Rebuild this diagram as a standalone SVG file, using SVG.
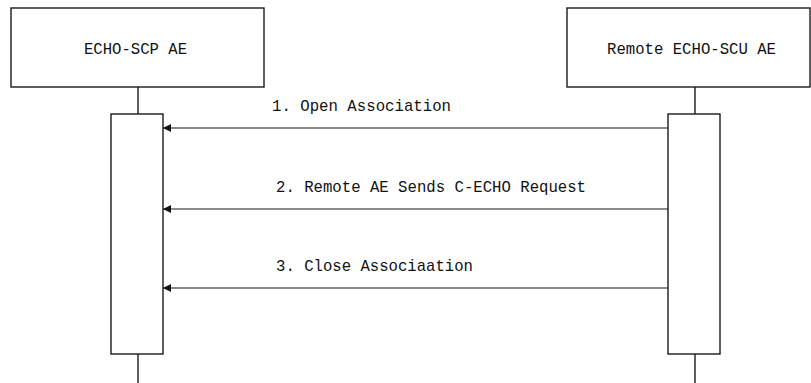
<svg xmlns="http://www.w3.org/2000/svg" width="811" height="383" viewBox="0 0 811 383">
  <style>
    .box { fill: #ffffff; stroke: #1a1a1a; stroke-width: 1.4; }
    .life { stroke: #1a1a1a; stroke-width: 1.4; fill: none; }
    .msg { stroke: #1a1a1a; stroke-width: 1.2; fill: none; marker-end: url(#arrow); }
    .lbl { font-family: "Liberation Mono", "DejaVu Sans Mono", monospace; font-size: 17px; fill: #111111; }
  </style>
  <defs>
    <marker id="arrow" viewBox="0 0 10 10" refX="10" refY="5" markerWidth="8" markerHeight="8" markerUnits="userSpaceOnUse" orient="auto">
      <path d="M0,0 L10,5 L0,10 z" fill="#111111"/>
    </marker>
  </defs>
  <rect width="811" height="383" fill="#ffffff"/>

  <g id="echo-scp">
    <rect class="box" x="11" y="8" width="253" height="79"/>
    <text class="lbl" x="84" y="54" textLength="103" lengthAdjust="spacingAndGlyphs">ECHO-SCP AE</text>
    <line class="life" x1="138" y1="87" x2="138" y2="114"/>
    <rect class="box" x="111" y="114" width="52" height="240"/>
    <line class="life" x1="138" y1="354" x2="138" y2="383"/>
  </g>

  <g id="remote-echo-scu">
    <rect class="box" x="567" y="8" width="243" height="79"/>
    <text class="lbl" x="607" y="54" textLength="169" lengthAdjust="spacingAndGlyphs">Remote ECHO-SCU AE</text>
    <line class="life" x1="695" y1="87" x2="695" y2="114"/>
    <rect class="box" x="668" y="114" width="52" height="240"/>
    <line class="life" x1="695" y1="354" x2="695" y2="383"/>
  </g>

  <g id="connectors">
    <line class="msg" x1="668" y1="128" x2="163" y2="128"/>
    <text class="lbl" x="272" y="111" textLength="179" lengthAdjust="spacingAndGlyphs">1. Open Association</text>
    <line class="msg" x1="668" y1="209" x2="163" y2="209"/>
    <text class="lbl" x="276" y="192" textLength="310" lengthAdjust="spacingAndGlyphs">2. Remote AE Sends C-ECHO Request</text>
    <line class="msg" x1="668" y1="288" x2="163" y2="288"/>
    <text class="lbl" x="276" y="271" textLength="197" lengthAdjust="spacingAndGlyphs">3. Close Associaation</text>
  </g>
</svg>
